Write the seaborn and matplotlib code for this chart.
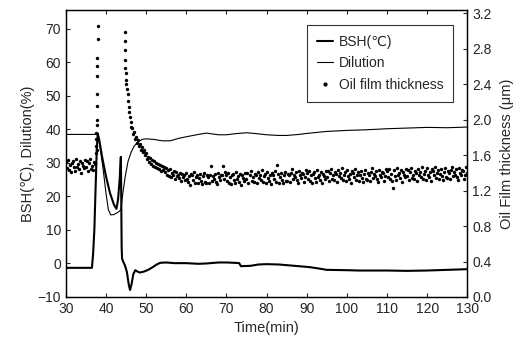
import numpy as np
import pandas as pd
import matplotlib
matplotlib.use("Agg")
import matplotlib.pyplot as plt
import seaborn as sns
from matplotlib.lines import Line2D

# BSH temperature (left axis, deg C)
bsh_t = [30, 36.5, 36.8, 37.1, 37.4, 37.7, 37.95, 38.3, 39.0, 40.0, 41.0, 42.0, 42.6,
         43.0, 43.4, 43.7, 43.8, 43.9, 44.0, 44.3, 44.7, 45.2, 45.7, 46.0, 46.4, 46.8,
         47.3, 47.8, 48.5, 49.5, 50.5, 51.5, 52.5, 53.5, 55, 57, 60, 63, 65, 68, 70, 72,
         73.2, 73.6, 76, 78, 80, 83, 85, 88, 90.8, 93, 95, 100, 103, 110, 115, 120, 125, 130]
bsh_v = [-1.3, -1.3, 3, 10, 22, 34, 38.8, 37, 32, 26, 21, 17.5, 16.3,
         19, 25, 31.8, 20, 5, 1.5, 0.5, -0.5, -2.5, -6.5, -7.9, -6, -3.2,
         -2.0, -2.4, -2.7, -2.4, -1.9, -1.2, -0.4, 0.2, 0.3, 0.1, 0.1, -0.1, 0.0, 0.3, 0.3, 0.2,
         0.1, -0.8, -0.7, -0.3, -0.2, -0.3, -0.5, -0.8, -1.1, -1.5, -1.9, -2.0, -2.1, -2.1, -2.2, -2.1, -1.9, -1.7]

# Dilution (left axis, %)
dil_t = [30, 37.5, 37.9, 38.5, 39.3, 40.0, 40.6, 41.2, 42.0, 43.0, 43.7, 44.2, 44.8,
         45.5, 46.2, 47.0, 48.0, 49.0, 50, 52, 54, 56, 58, 60, 63, 65, 68, 70, 72, 75,
         77, 80, 83, 85, 88, 90, 95, 100, 105, 110, 115, 120, 125, 130]
dil_v = [38.5, 38.5, 38.8, 35, 28, 21, 16, 14.5, 14.6, 15.3, 16, 21, 26,
         30.5, 33, 35, 36.3, 37, 37.2, 37, 36.6, 36.6, 37.3, 37.8, 38.5, 38.9, 38.4, 38.4, 38.7, 39.0,
         38.8, 38.4, 38.2, 38.2, 38.5, 38.8, 39.4, 39.7, 39.9, 40.2, 40.4, 40.6, 40.5, 40.7]

# Oil film thickness (right axis, um), sampled every 0.25 min from 30 to 130
film_start, film_step = 30.0, 0.25
film_v = [
    1.52, 1.45, 1.54, 1.43, 1.49, 1.41, 1.51, 1.53, 1.46, 1.42, 1.55, 1.47, 1.50, 1.44, 1.53, 1.40, 1.51, 1.48, 1.45, 1.54,
    1.46, 1.53, 1.42, 1.51, 1.55, 1.44, 1.48, 1.43, 1.52, 1.50, 1.62, 1.66, None, None, None, None, None, None, None, None,
    None, None, None, None, None, None, None, None, None, None, None, None, None, None, None, None, None, None, None, None,
    None, None, None, None, None, None, 1.90, 1.84, 1.86, 1.78, 1.80, 1.74, 1.77, 1.70, 1.73, 1.66, 1.69, 1.63, 1.66, 1.60,
    1.62, 1.55, 1.58, 1.52, 1.57, 1.50, 1.54, 1.48, 1.53, 1.47, 1.51, 1.45, 1.50, 1.44, 1.49, 1.42, 1.48, 1.43, 1.46, 1.41,
    1.45, 1.38, 1.43, 1.36, 1.44, 1.35, 1.40, 1.37, 1.42, 1.33, 1.41, 1.36, 1.38, 1.34, 1.40, 1.31, 1.39, 1.35, 1.37, 1.32,
    1.40, 1.33, 1.30, 1.36, 1.26, 1.39, 1.37, 1.32, 1.41, 1.29, 1.35, 1.38, 1.28, 1.34, 1.39, 1.31, 1.27, 1.36, 1.40, 1.30,
    1.29, 1.37, 1.35, 1.28, 1.38, 1.48, 1.31, 1.36, 1.33, 1.39, 1.30, 1.27, 1.40, 1.35, 1.32, 1.38, 1.37, 1.48, 1.33, 1.41,
    1.38, 1.31, 1.40, 1.29, 1.35, 1.27, 1.37, 1.39, 1.32, 1.28, 1.41, 1.33, 1.36, 1.30, 1.39, 1.26, 1.37, 1.34, 1.31, 1.40,
    1.33, 1.40, 1.29, 1.38, 1.42, 1.31, 1.35, 1.30, 1.39, 1.37, 1.28, 1.41, 1.34, 1.38, 1.32, 1.43, 1.30, 1.36, 1.39, 1.29,
    1.41, 1.34, 1.31, 1.37, 1.27, 1.40, 1.38, 1.33, 1.42, 1.30, 1.49, 1.39, 1.29, 1.35, 1.40, 1.32, 1.28, 1.37, 1.41, 1.31,
    1.31, 1.39, 1.37, 1.30, 1.40, 1.44, 1.33, 1.38, 1.35, 1.41, 1.32, 1.29, 1.42, 1.37, 1.34, 1.40, 1.39, 1.30, 1.35, 1.43,
    1.40, 1.33, 1.42, 1.31, 1.37, 1.29, 1.39, 1.41, 1.34, 1.30, 1.43, 1.35, 1.38, 1.32, 1.41, 1.28, 1.39, 1.36, 1.33, 1.42,
    1.35, 1.42, 1.31, 1.40, 1.44, 1.33, 1.37, 1.32, 1.41, 1.39, 1.30, 1.43, 1.36, 1.40, 1.34, 1.45, 1.32, 1.38, 1.41, 1.31,
    1.43, 1.36, 1.33, 1.39, 1.29, 1.42, 1.40, 1.35, 1.44, 1.32, 1.38, 1.41, 1.31, 1.37, 1.42, 1.34, 1.30, 1.39, 1.43, 1.33,
    1.32, 1.40, 1.38, 1.31, 1.41, 1.45, 1.34, 1.39, 1.36, 1.42, 1.33, 1.30, 1.43, 1.38, 1.35, 1.41, 1.40, 1.31, 1.36, 1.44,
    1.42, 1.35, 1.44, 1.33, 1.39, 1.31, 1.23, 1.43, 1.36, 1.32, 1.45, 1.37, 1.40, 1.34, 1.43, 1.30, 1.41, 1.38, 1.35, 1.44,
    1.36, 1.43, 1.32, 1.41, 1.45, 1.34, 1.38, 1.33, 1.42, 1.40, 1.31, 1.44, 1.37, 1.41, 1.35, 1.46, 1.33, 1.39, 1.42, 1.32,
    1.45, 1.38, 1.35, 1.41, 1.31, 1.44, 1.42, 1.37, 1.46, 1.34, 1.40, 1.43, 1.33, 1.39, 1.44, 1.36, 1.32, 1.41, 1.45, 1.35,
    1.34, 1.42, 1.40, 1.33, 1.43, 1.47, 1.36, 1.41, 1.38, 1.44, 1.35, 1.32, 1.45, 1.40, 1.37, 1.43, 1.42, 1.33, 1.38, 1.46,
    1.40,
]

# extra readings during the two thickness spikes
spike_t = [37.55, 37.60, 37.62, 37.65, 37.70, 37.72, 37.75, 37.78, 37.80, 37.85, 37.90, 37.95,
           44.70, 44.75, 44.78, 44.80, 44.85, 44.90, 45.00, 45.10, 45.25, 45.40, 45.55, 45.70,
           45.85, 46.00, 46.15, 46.30]
spike_v = [1.70, 1.78, 1.85, 1.94, 1.99, 2.15, 2.29, 2.49, 2.60, 2.69, 2.91, 3.05,
           2.99, 2.89, 2.78, 2.67, 2.58, 2.53, 2.45, 2.40, 2.34, 2.29, 2.21, 2.14,
           2.08, 2.03, 1.97, 1.92]

film_t = film_start + film_step * np.arange(len(film_v))
film = pd.DataFrame({"t": np.concatenate([film_t, spike_t]),
                     "v": np.array(list(film_v) + spike_v, dtype=float)}).dropna()

sns.set_style("ticks")
plt.rcParams["font.family"] = ["Liberation Sans", "DejaVu Sans"]
plt.rcParams["font.size"] = 10

fig = plt.figure(figsize=(5.31, 3.6), dpi=100)
ax = fig.add_axes([0.124, 0.175, 0.756, 0.797])
ax2 = ax.twinx()

sns.lineplot(x=bsh_t, y=bsh_v, ax=ax, color="black", linewidth=1.5, sort=False)
sns.lineplot(x=dil_t, y=dil_v, ax=ax, color="black", linewidth=0.8, sort=False)
sns.scatterplot(data=film, x="t", y="v", ax=ax2, color="black", s=6, linewidth=0)

ax.set_xlim(30, 130)
ax.set_ylim(-10, 75.6)
ax2.set_ylim(0, 3.234)
ax.set_xticks(np.arange(30, 131, 10))
ax.set_yticks(np.arange(-10, 71, 10))
ax2.set_yticks(np.arange(0, 3.21, 0.4))
ax2.set_yticklabels([f"{v:.1f}" for v in np.arange(0, 3.21, 0.4)])

ax.set_xlabel("Time(min)", fontsize=10.5, labelpad=4)
ax.set_ylabel("BSH(℃), Dilution(%)", fontsize=10.5, labelpad=2)
ax2.set_ylabel("Oil Film thickness (μm)", fontsize=10.5, labelpad=6)

ax.tick_params(axis="both", direction="in", length=3, width=0.8, labelsize=10, top=True)
ax.tick_params(axis="y", right=False)
ax2.tick_params(axis="y", direction="in", length=3, width=0.8, labelsize=10)
for a in (ax, ax2):
    for sp in a.spines.values():
        sp.set_linewidth(0.9)
        sp.set_color("black")

handles = [Line2D([], [], color="black", linewidth=1.5),
           Line2D([], [], color="black", linewidth=0.8),
           Line2D([], [], color="black", marker="o", markersize=2, linestyle="none")]
labels = ["BSH(℃)", "Dilution", "Oil film thickness"]
leg = ax2.legend(handles, labels, loc="upper right", bbox_to_anchor=(0.965, 0.948),
                 borderaxespad=0, frameon=True, fancybox=False, fontsize=10,
                 handlelength=1.2, handletextpad=0.4, borderpad=0.7, labelspacing=0.55)
leg.get_frame().set_edgecolor("black")
leg.get_frame().set_linewidth(0.8)

fig.savefig("out.png", dpi=100)
